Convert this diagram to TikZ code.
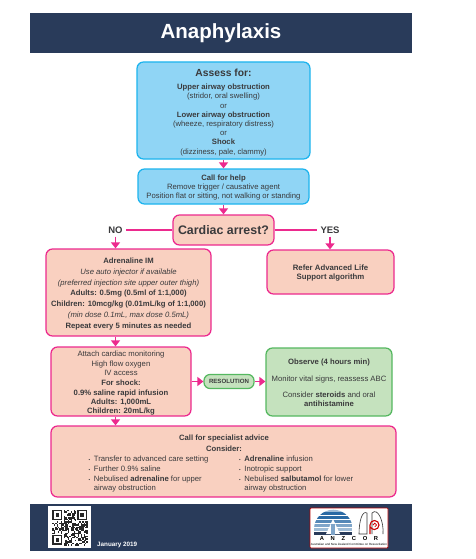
\documentclass[tikz,border=0pt]{standalone}
\usepackage{fontspec}
\setmainfont{Liberation Sans}
\usetikzlibrary{arrows.meta}
\definecolor{navy}{HTML}{293B5A}
\definecolor{inktext}{HTML}{3A3A3C}
\definecolor{pinkline}{HTML}{EC2A8E}
\definecolor{pinkfill}{HTML}{F9D0C0}
\definecolor{blueline}{HTML}{1DB4EE}
\definecolor{bluefill}{HTML}{90D5F5}
\definecolor{greenline}{HTML}{55B860}
\definecolor{greenfill}{HTML}{C5E2BE}
\definecolor{logoblue}{HTML}{2A6AA5}
\newcommand{\listdot}{\makebox[5.3pt][l]{\fontsize{4.5}{5}\selectfont\textbullet}}
\newcommand{\lift}[1]{\rule{0pt}{#1pt}}
\tikzset{>={Stealth[length=6pt,width=9pt,inset=0pt]}}
\tikzset{
  base/.style={rounded corners=6.5pt, line width=1.25pt, align=center, text=inktext, inner sep=0pt,
    font=\fontsize{7.7}{9.2}\selectfont},
  bluebox/.style={base, draw=blueline, fill=bluefill},
  pinkbox/.style={base, draw=pinkline, fill=pinkfill},
  greenbox/.style={base, draw=greenline, fill=greenfill},
  link/.style={draw=pinkline, line width=1.25pt},
  label/.style={text=inktext, font=\fontsize{9.5}{11}\selectfont\bfseries, inner sep=3pt},
  band/.style={fill=navy, draw=none, inner sep=0pt},
  sized/.style n args={2}{minimum width=#1pt, minimum height=#2pt}
}
\begin{document}
\begin{tikzpicture}[x=1pt,y=-1pt]
\useasboundingbox (0,0) rectangle (476,559);
\fill[white] (0,0) rectangle (476,559);
% bands
\node[band, sized={382}{39.5}, text=white, font=\fontsize{20.5}{24}\selectfont\bfseries] (header) at (221,33) {Anaphylaxis};
\node[band, sized={382}{47}] (footer) at (221,527.5) {};
\node[text=white, font=\fontsize{6.3}{7}\selectfont\bfseries, inner sep=0pt, anchor=west] (date) at (97,545) {January 2019};
% boxes
\node[bluebox, sized={173}{97}] (assess) at (223.5,110.5) {\lift{11}{\fontsize{10.3}{12}\selectfont\bfseries Assess for:}\\[4pt]
  \textbf{Upper airway obstruction}\\(stridor, oral swelling)\\or\\\textbf{Lower airway obstruction}\\
  (wheeze, respiratory distress)\\or\\\textbf{Shock}\\(dizziness, pale, clammy)};
\node[bluebox, sized={171}{35}] (help) at (223.5,186.5) {\lift{7.5}\textbf{Call for help}\\Remove trigger / causative agent\\Position flat or sitting, not walking or standing};
\node[pinkbox, sized={101}{30}, font=\fontsize{12.4}{14}\selectfont\bfseries] (arrest) at (223.5,230) {Cardiac arrest?};
\node[label] (no) at (115.5,230) {NO};
\node[label] (yes) at (330,230) {YES};
\node[pinkbox, sized={165}{87}, font=\fontsize{7.7}{10.8}\selectfont] (adrenaline) at (128.5,292.5) {\lift{8.5}\textbf{Adrenaline IM}\\
  \textit{Use auto injector if available}\\\textit{(preferred injection site upper outer thigh)}\\
  \textbf{Adults: 0.5mg (0.5ml of 1:1,000)}\\\textbf{Children: 10mcg/kg (0.01mL/kg of 1:1,000)}\\
  \textit{(min dose 0.1mL, max dose 0.5mL)}\\\textbf{Repeat every 5 minutes as needed}};
\node[pinkbox, sized={127}{44}, font=\fontsize{7.8}{8.7}\selectfont\bfseries] (refer) at (330.5,272) {\lift{8}Refer Advanced Life\\Support algorithm};
\node[pinkbox, sized={140}{69}] (attach) at (121,381.5) {\lift{9}Attach cardiac monitoring\\High flow oxygen\\IV access\\[1.5pt]
  \textbf{For shock:}\\\textbf{0.9\% saline rapid infusion}\\\textbf{Adults: 1,000mL}\\\textbf{Children: 20mL/kg}};
\node[greenbox, sized={50}{14}, rounded corners=6pt, font=\fontsize{6.1}{7}\selectfont\bfseries] (resolution) at (229,381.5) {RESOLUTION};
\node[greenbox, sized={126}{68}] (observe) at (329,382) {\lift{7.5}\textbf{Observe (4 hours min)}\\[7pt]Monitor vital signs, reassess ABC\\[7pt]
  Consider \textbf{steroids} and oral\\\textbf{antihistamine}};
\node[pinkbox, sized={345}{71}] (specialist) at (223.5,461.5) {};
\node[base, anchor=north] (advice) at (224,434) {\textbf{Call for specialist advice}\\[1.7pt]\textbf{Consider:}};
\node[base, anchor=north west, align=left] (leftlist) at (88,455.5) {\listdot Transfer to advanced care setting\\[0.8pt]
  \listdot Further 0.9\% saline\\[0.8pt]\listdot Nebulised \textbf{adrenaline} for upper\\\hspace{5.3pt}airway obstruction};
\node[base, anchor=north west, align=left] (rightlist) at (238.5,455.5) {\listdot\textbf{Adrenaline} infusion\\[0.8pt]
  \listdot Inotropic support\\[0.8pt]\listdot Nebulised \textbf{salbutamol} for lower\\\hspace{5.3pt}airway obstruction};
% connectors
\draw[link,->] (assess) -- (help);
\draw[link,->] (help) -- (arrest);
\draw[link] (arrest) -- (no);
\draw[link] (arrest) -- (yes);
\draw[link,->] (no) -- (no |- adrenaline.north);
\draw[link,->] (yes) -- (yes |- refer.north);
\draw[link,->] (no |- adrenaline.south) -- (no |- attach.north);
\draw[link,->] (no |- attach.south) -- (no |- specialist.north);
\draw[link,->] (attach.east |- resolution) -- (resolution);
\draw[link,->] (resolution) -- (observe.west |- resolution);
% qr code
\fill[white] (48,506) rectangle (91,548);
\pgfmathsetseed{2019}
\foreach \x in {0,...,24}
  \foreach \y in {0,...,24} {
    \pgfmathtruncatemacro{\qrbit}{rnd<0.52}
    \pgfmathtruncatemacro{\corner}{(\x<8 && \y<8) || (\x>16 && \y<8) || (\x<8 && \y>16)}
    \ifnum\qrbit=1
      \ifnum\corner=0
        \fill[black!85] (52.3+\x*1.42,510+\y*1.42) rectangle +(1.42,1.42);
      \fi
    \fi
  }
\foreach \x/\y in {0/0,24.9/0,0/24.9} {
  \draw[black!85, line width=1.4pt] (53+\x,510.7+\y) rectangle +(8.5,8.5);
  \fill[black!85] (55.5+\x,513.2+\y) rectangle +(3.5,3.5);
}
% logo
\fill[white, draw=red!70!black, line width=0.7pt, rounded corners=1pt] (310,508) rectangle (388,548);
\begin{scope}
  \clip (314,535) -- (314,529) arc (180:360:19.3) -- (352.6,535) -- cycle;
  \foreach \y/\c in {509/logoblue!45,512/logoblue,516/logoblue,520/logoblue!80,524/logoblue!60,528/logoblue!45,532/navy}
    \fill[\c] (314,\y) rectangle (353,\y+2.6);
\end{scope}
\fill[white] (333,519) -- (340,534) -- (326,534) -- cycle;
\fill[logoblue!60] (331,524) rectangle (335,535);
\draw[black!80, line width=0.6pt] (367,534) -- (367,513) .. controls (362,510) and (359,522) .. (359,534) -- cycle;
\draw[black!80, line width=0.6pt] (372,534) -- (372,513) .. controls (378,507) and (384,522) .. (383,534);
\draw[red!80!black, line width=1.1pt] (370,534) -- (370,525) arc (180:510:4.5);
\draw[red!80!black, line width=0.8pt] (373,525) arc (180:450:1.8);
\node[text=black, font=\fontsize{5.8}{6}\selectfont\bfseries, inner sep=0pt] (anzcor) at (349,538.5) {A\hspace{6.7pt}N\hspace{6.7pt}Z\hspace{6.7pt}C\hspace{6.7pt}O\hspace{6.7pt}R};
\node[text=black, font=\fontsize{3}{3.5}\selectfont, inner sep=0pt] (committee) at (349,544.8) {Australian and New Zealand Committee on Resuscitation};
\end{tikzpicture}
\end{document}
